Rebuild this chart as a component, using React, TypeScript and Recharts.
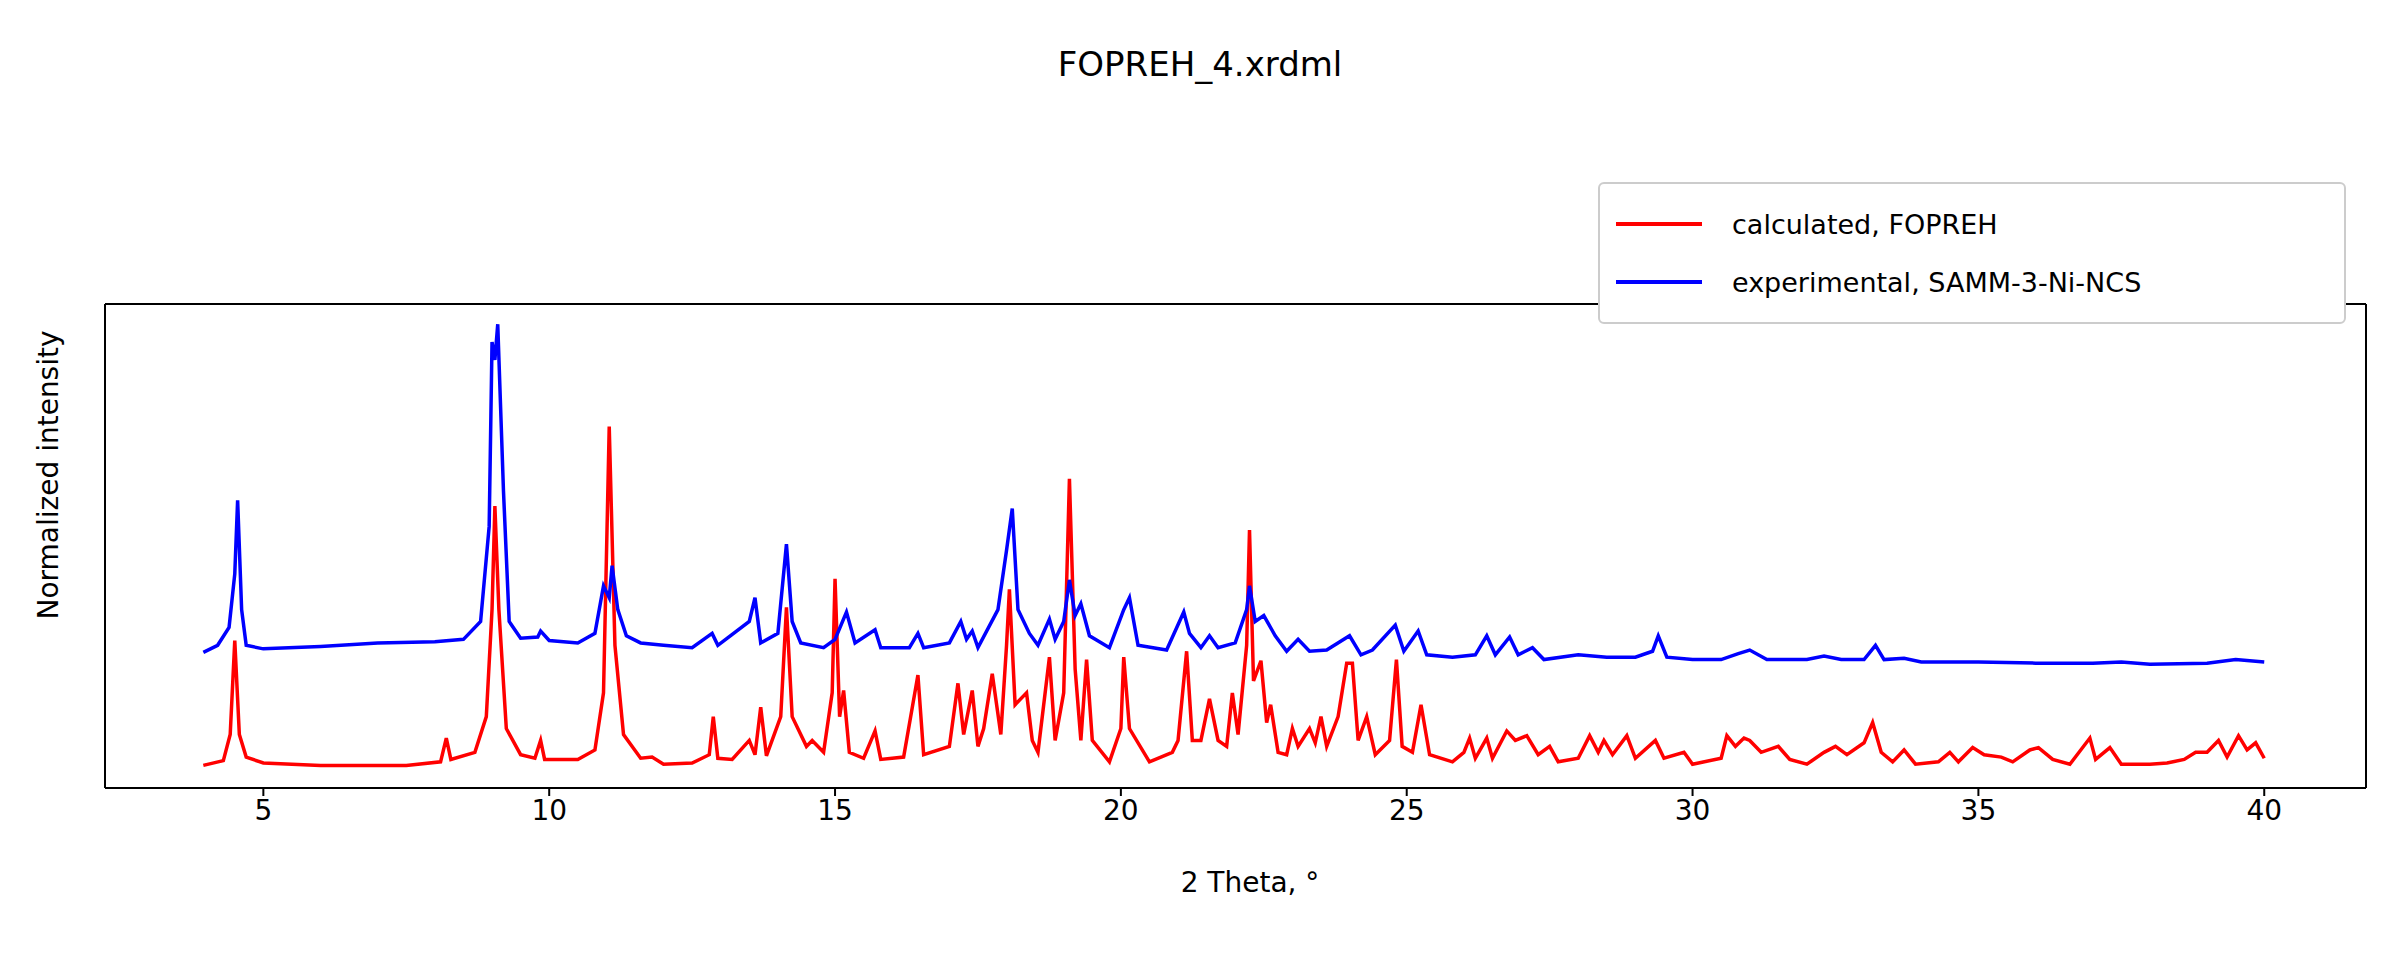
import { LineChart, Line, XAxis, YAxis, Legend } from 'recharts'

// values; y is relative height above the frame bottom
const calcX = [3.95, 4.3, 4.42, 4.5, 4.58, 4.7, 5, 6, 7.5, 8.1, 8.2, 8.28, 8.7, 8.9, 9.0, 9.05, 9.12, 9.25, 9.5, 9.75, 9.85, 9.92, 10.5, 10.8, 10.95, 11.05, 11.15, 11.3, 11.6, 11.8, 12.0, 12.5, 12.8, 12.87, 12.95, 13.2, 13.5, 13.6, 13.7, 13.8, 14.05, 14.15, 14.25, 14.5, 14.6, 14.8, 14.95, 15.0, 15.08, 15.15, 15.25, 15.5, 15.7, 15.8, 16.2, 16.45, 16.55, 17.0, 17.15, 17.25, 17.4, 17.5, 17.6, 17.75, 17.9, 18.0, 18.05, 18.15, 18.35, 18.45, 18.55, 18.75, 18.85, 19.0, 19.1, 19.2, 19.3, 19.4, 19.5, 19.8, 20.0, 20.05, 20.15, 20.5, 20.9, 21.0, 21.15, 21.25, 21.4, 21.55, 21.7, 21.85, 21.95, 22.05, 22.2, 22.25, 22.32, 22.45, 22.55, 22.62, 22.75, 22.9, 23.0, 23.1, 23.3, 23.4, 23.5, 23.6, 23.8, 23.95, 24.05, 24.15, 24.3, 24.45, 24.7, 24.82, 24.92, 25.1, 25.25, 25.4, 25.8, 26.0, 26.1, 26.2, 26.4, 26.5, 26.75, 26.9, 27.1, 27.3, 27.5, 27.65, 28.0, 28.2, 28.35, 28.45, 28.6, 28.85, 29.0, 29.35, 29.5, 29.85, 30.0, 30.5, 30.6, 30.75, 30.9, 31.0, 31.2, 31.5, 31.7, 32.0, 32.3, 32.5, 32.7, 33.0, 33.15, 33.3, 33.5, 33.7, 33.9, 34.3, 34.5, 34.65, 34.9, 35.1, 35.4, 35.6, 35.9, 36.05, 36.3, 36.6, 36.95, 37.05, 37.3, 37.5, 38.0, 38.3, 38.6, 38.8, 39.0, 39.2, 39.35, 39.55, 39.7, 39.85, 40.0]
const calcY = [19, 23, 45, 124, 45, 26, 21, 19, 19, 22, 42, 24, 30, 60, 150, 237, 150, 50, 28, 25, 40, 24, 24, 32, 80, 304, 120, 45, 25, 26, 20, 21, 28, 60, 25, 24, 40, 28, 68, 27, 60, 152, 60, 35, 40, 30, 80, 176, 60, 82, 30, 25, 48, 24, 26, 95, 28, 35, 88, 45, 82, 35, 50, 96, 45, 120, 167, 70, 80, 40, 30, 110, 40, 80, 260, 100, 40, 108, 40, 22, 50, 110, 50, 22, 30, 40, 115, 40, 40, 75, 40, 35, 80, 45, 120, 217, 90, 107, 55, 70, 30, 28, 50, 35, 50, 38, 60, 35, 60, 105, 105, 40, 60, 28, 40, 108, 35, 30, 70, 28, 22, 30, 42, 25, 42, 25, 48, 40, 44, 28, 35, 22, 25, 44, 30, 40, 28, 44, 25, 40, 25, 30, 20, 25, 44, 35, 42, 40, 30, 35, 24, 20, 30, 35, 28, 38, 55, 30, 22, 32, 20, 22, 30, 22, 34, 28, 26, 22, 32, 34, 24, 20, 42, 24, 34, 20, 20, 21, 24, 30, 30, 40, 26, 44, 32, 38, 25]

const expX = [3.95, 4.2, 4.4, 4.5, 4.55, 4.62, 4.7, 5, 6, 7, 8, 8.5, 8.8, 8.95, 9.0, 9.05, 9.1, 9.2, 9.3, 9.5, 9.8, 9.85, 10.0, 10.5, 10.8, 10.95, 11.05, 11.1, 11.2, 11.35, 11.6, 12.0, 12.5, 12.85, 12.95, 13.5, 13.6, 13.7, 14.0, 14.15, 14.25, 14.4, 14.8, 15.0, 15.2, 15.35, 15.7, 15.8, 16.3, 16.45, 16.55, 17.0, 17.2, 17.3, 17.4, 17.5, 17.85, 18.0, 18.1, 18.2, 18.4, 18.55, 18.75, 18.85, 19.0, 19.1, 19.2, 19.3, 19.45, 19.8, 20.05, 20.15, 20.3, 20.8, 21.1, 21.2, 21.4, 21.55, 21.7, 22.0, 22.2, 22.25, 22.35, 22.5, 22.7, 22.9, 23.1, 23.3, 23.6, 24.0, 24.2, 24.4, 24.8, 24.95, 25.2, 25.35, 25.8, 26.2, 26.4, 26.55, 26.8, 26.95, 27.2, 27.4, 28.0, 28.5, 29.0, 29.3, 29.4, 29.55, 30.0, 30.5, 30.8, 31.0, 31.3, 32.0, 32.3, 32.6, 33.0, 33.2, 33.35, 33.7, 34.0, 35.0, 36.0, 37.0, 37.5, 38.0, 39.0, 39.5, 40.0]
const expY = [114, 120, 135, 180, 242, 150, 120, 117, 119, 122, 123, 125, 140, 220, 375, 360, 390, 250, 140, 126, 127, 132, 124, 122, 130, 170, 160, 187, 150, 128, 122, 120, 118, 130, 120, 140, 160, 122, 130, 205, 140, 122, 118, 125, 148, 122, 133, 118, 118, 130, 118, 122, 140, 125, 132, 118, 150, 200, 235, 150, 130, 120, 142, 125, 140, 175, 145, 155, 128, 118, 150, 160, 120, 116, 148, 130, 118, 128, 118, 122, 150, 170, 140, 145, 128, 115, 125, 115, 116, 128, 112, 116, 137, 115, 132, 112, 110, 112, 128, 112, 127, 112, 118, 108, 112, 110, 110, 115, 128, 110, 108, 108, 113, 116, 108, 108, 111, 108, 108, 120, 108, 109, 106, 106, 105, 105, 106, 104, 105, 108, 106]

const xTicks = [5, 10, 15, 20, 25, 30, 35, 40]

const calcData = calcX.map((x, i) => ({ x, y: calcY[i] }))
const expData = expX.map((x, i) => ({ x, y: expY[i] }))

const font = 'DejaVu Sans'

function LegendBox() {
  const row = (color: string, label: string) => (
    <div style={{ display: 'flex', alignItems: 'center', height: 58 }}>
      <div style={{ width: 86, height: 3.5, background: color, marginRight: 30 }} />
      <span>{label}</span>
    </div>
  )
  return (
    <div style={{ border: '2px solid #ccc', borderRadius: 6, background: 'white', padding: '11px 16px', fontSize: 27, fontFamily: font, width: 748, boxSizing: 'border-box' }}>
      {row('#ff0000', 'calculated, FOPREH')}
      {row('#0000ff', 'experimental, SAMM-3-Ni-NCS')}
    </div>
  )
}

export default function App() {
  return (
    <div style={{ position: 'absolute', left: 0, top: 0, width: 2400, height: 960, background: 'white', fontFamily: font }}>
      <div style={{ position: 'absolute', top: 44, width: 2400, textAlign: 'center', fontSize: 34 }}>FOPREH_4.xrdml</div>
      <div style={{ position: 'absolute', left: 48, top: 475, transform: 'translate(-50%, -50%) rotate(-90deg)', fontSize: 28, whiteSpace: 'nowrap' }}>Normalized intensity</div>
      <div style={{ position: 'absolute', top: 866, width: 2400, paddingLeft: 100, boxSizing: 'border-box', textAlign: 'center', fontSize: 28 }}>2 Theta, °</div>
      <LineChart width={2400} height={960} margin={{ top: 161, right: 33, left: 104, bottom: 112 }}>
        <XAxis type="number" dataKey="x" domain={[2.23, 41.78]} ticks={xTicks} allowDataOverflow
          stroke="#000" strokeWidth={2} tickSize={8} tickMargin={4}
          tick={{ fill: '#000', fontSize: 28, fontFamily: font }} height={60} />
        <XAxis xAxisId="top" orientation="top" type="number" domain={[2.23, 41.78]} tick={false} tickLine={false} stroke="#000" strokeWidth={2} height={1} />
        <YAxis type="number" domain={[0, 407]} tick={false} tickLine={false} stroke="#000" strokeWidth={2} width={1} />
        <YAxis yAxisId="r" orientation="right" type="number" domain={[0, 407]} tick={false} tickLine={false} stroke="#000" strokeWidth={2} width={1} />
        <Legend verticalAlign="top" align="right" content={<LegendBox />}
          wrapperStyle={{ top: 182, right: 54, left: 'auto', width: 'auto' }} />
        <Line data={calcData} dataKey="y" stroke="#ff0000" strokeWidth={3.5} dot={false} isAnimationActive={false} type="linear" />
        <Line data={expData} dataKey="y" stroke="#0000ff" strokeWidth={3.5} dot={false} isAnimationActive={false} type="linear" />
      </LineChart>
    </div>
  )
}
